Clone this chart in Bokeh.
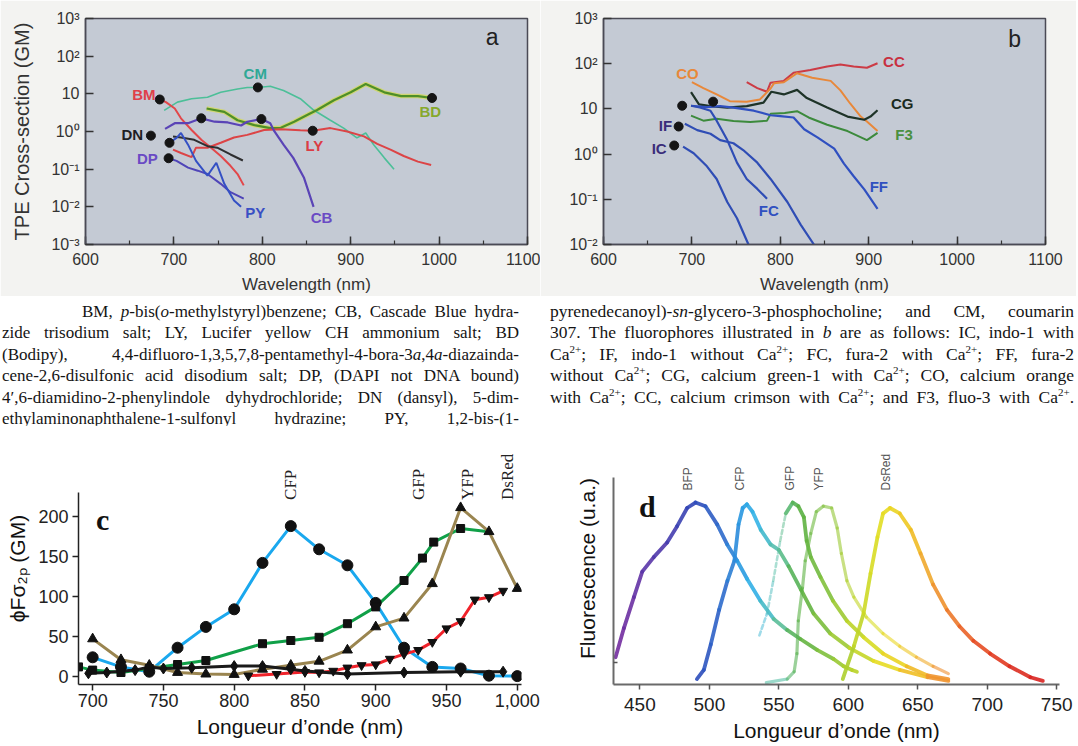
import numpy as np
from bokeh.plotting import figure
from bokeh.models import (Label, Div, FixedTicker, SingleIntervalTicker,
                          CustomJSTickFormatter, NumeralTickFormatter)
from bokeh.layouts import column, row
from bokeh.embed import file_html
from bokeh.resources import INLINE

SANS = "Liberation Sans"
SERIF = "Liberation Serif"

# ------------------------------------------------------------------
# Panel a : TPE cross-section (log10 of GM) versus wavelength (nm)
# ------------------------------------------------------------------
BM_nm = [684, 691, 701, 708, 720, 731, 742, 753, 764, 772, 779]
BM_log = [0.85, 0.78, 0.61, 0.35, 0.04, -0.22, -0.43, -0.65, -0.91, -1.13, -1.43]
CM_nm = [689, 704, 720, 738, 753, 772, 783, 795, 809, 824, 843, 858, 877, 892, 907, 917, 926, 938, 949]
CM_log = [0.56, 0.78, 0.87, 0.91, 1.04, 1.13, 1.17, 1.17, 1.20, 1.09, 0.87, 0.57, 0.30, 0.09, -0.17, -0.04, -0.35, -0.70, -1.00]
BD_nm = [737, 757, 772, 791, 809, 821, 836, 854, 862, 881, 900, 917, 938, 957, 976, 992]
BD_log = [0.61, 0.52, 0.30, 0.17, 0.09, 0.10, 0.26, 0.48, 0.57, 0.83, 1.04, 1.26, 1.04, 0.94, 0.94, 0.89]
LY_nm = [699, 708, 720, 725, 738, 753, 768, 783, 802, 821, 843, 857, 877, 896, 915, 930, 945, 960, 976, 991]
LY_log = [-0.48, -0.57, -0.68, -0.43, -0.43, -0.30, -0.16, -0.09, 0.04, 0.06, 0.03, 0.02, 0.09, 0.00, -0.13, -0.33, -0.48, -0.65, -0.80, -0.89]
CB_nm = [690, 701, 716, 731, 746, 761, 776, 783, 799, 809, 813, 824, 835, 847, 858]
CB_log = [0.07, 0.22, 0.22, 0.35, 0.26, 0.24, 0.16, 0.26, 0.33, 0.22, 0.03, -0.35, -0.70, -1.22, -2.00]
DN_nm = [699, 708, 723, 738, 749, 764, 778]
DN_log = [-0.13, -0.16, -0.22, -0.39, -0.43, -0.61, -0.77]
PY_nm = [695, 703, 708, 716, 725, 738, 748, 757, 768, 776]
PY_log = [-0.30, -0.17, -0.04, -0.35, -0.78, -1.17, -0.83, -1.39, -1.83, -2.00]
DP_nm = [694, 703, 716, 727, 738, 753, 764, 779]
DP_log = [-0.71, -0.78, -0.96, -1.04, -1.13, -1.39, -1.61, -1.78]
A_dot_nm = [684, 795, 731, 799, 857, 992, 674, 695, 694]
A_dot_log = [0.85, 1.17, 0.35, 0.33, 0.02, 0.89, -0.11, -0.30, -0.71]

# ------------------------------------------------------------------
# Panel b : calcium indicators (log10 of GM)
# ------------------------------------------------------------------
IC_nm = [690, 702, 717, 728, 740, 751, 764]
IC_log = [0.165, 0.02, -0.27, -0.55, -1.06, -1.42, -2.0]
IF_nm = [692, 706, 721, 732, 747, 758, 774, 789, 808, 823, 838]
IF_log = [0.67, 0.53, 0.45, 0.31, 0.24, 0.09, -0.19, -0.55, -1.06, -1.56, -2.0]
FC_nm = [699, 709, 721, 728, 740, 751, 762, 774, 785]
FC_log = [1.07, 1.03, 0.96, 0.74, 0.31, -0.19, -0.55, -0.77, -0.99]
FF_nm = [699, 717, 732, 747, 770, 789, 800, 815, 827, 842, 861, 872, 883, 895, 910]
FF_log = [1.07, 1.04, 1.06, 1.03, 0.96, 0.86, 0.84, 0.81, 0.55, 0.37, 0.12, -0.21, -0.49, -0.78, -1.21]
CG_nm = [699, 708, 721, 740, 762, 781, 790, 804, 819, 830, 853, 876, 895, 902, 910]
CG_log = [1.37, 1.10, 1.06, 1.03, 1.06, 1.14, 1.38, 1.32, 1.42, 1.24, 1.03, 0.83, 0.76, 0.83, 0.97]
CO_nm = [700, 713, 728, 743, 762, 777, 789, 793, 804, 819, 836, 857, 868, 879, 891, 898, 910]
CO_log = [1.59, 1.46, 1.32, 1.17, 1.16, 1.21, 1.45, 1.57, 1.59, 1.79, 1.69, 1.62, 1.41, 1.12, 0.83, 0.72, 0.51]
CC_nm = [762, 774, 785, 789, 804, 815, 834, 853, 868, 883, 898, 910]
CC_log = [1.59, 1.46, 1.38, 1.58, 1.62, 1.80, 1.86, 1.94, 1.98, 1.94, 1.91, 2.01]
F3_nm = [699, 713, 728, 747, 766, 785, 789, 805, 819, 832, 853, 876, 898, 910]
F3_log = [0.85, 0.74, 0.78, 0.73, 0.71, 0.74, 0.89, 0.91, 0.95, 0.81, 0.65, 0.51, 0.31, 0.47]
B_dot_nm = [680, 685, 689, 724]
B_dot_log = [0.19, 0.61, 1.07, 1.16]

# ------------------------------------------------------------------
# Panel c : brightness phiF*sigma2p (GM) of fluorescent proteins
# ------------------------------------------------------------------
CFP_nm = [700, 720, 740, 760, 780, 800, 820, 840, 860, 880, 900, 920, 940, 960, 980, 1000]
CFP_gm = [24, 12, 6, 36, 62, 84, 142, 188, 159, 139, 92, 36, 12, 10, 1, 0.5]
GFP_nm = [690, 700, 720, 740, 760, 780, 820, 840, 860, 880, 900, 920, 933, 941, 960, 980]
GFP_gm = [12, 8, 5, 10, 15, 20, 41, 45, 49, 66, 87, 120, 148, 168, 185, 181]
YFP_nm = [700, 720, 740, 760, 780, 800, 820, 840, 860, 880, 900, 920, 940, 960, 980, 1000]
YFP_gm = [47, 21, 14, 5, 3, 2.5, 9, 14, 19, 33, 62, 73, 116, 211, 181, 110]
DSR_nm = [810, 830, 850, 860, 870, 880, 890, 900, 910, 920, 930, 940, 950, 960, 970, 980, 990]
DSR_gm = [1, 3, 5.5, 5, 7, 11, 14, 15, 22, 28, 33, 43, 60, 69, 96, 99, 107]
BFP_nm = [697, 710, 730, 740, 750, 770, 800, 820, 840, 850, 880, 920, 960, 990]
BFP_gm = [4, 5, 8, 12, 10, 11, 13, 13, 9, 7, 3, 5, 6, 6]
C_tags = ["CFP", "GFP", "YFP", "DsRed"]
C_tag_nm = [840, 930, 965, 993]

# ------------------------------------------------------------------
# Panel d : emission spectra (arbitrary units)
# ------------------------------------------------------------------
dBFP_nm = [432.5, 438.5, 445.7, 451.7, 460, 469.6, 476.8, 484, 490, 497.2, 505.6, 512.8, 520, 527.2,
           536.7, 546.3, 555.9, 565.5, 577.5, 589.4, 596.6, 602.6, 606.2]
dBFP = [0.15, 0.31, 0.48, 0.62, 0.70, 0.78, 0.87, 0.97, 1.0, 0.98, 0.88, 0.77, 0.68, 0.58,
        0.46, 0.36, 0.30, 0.25, 0.19, 0.14, 0.10, 0.08, 0.07]
dCFP_nm = [491, 496, 501, 507, 513, 518, 521, 524, 527, 531, 537, 544, 550, 557, 566, 575, 587, 601, 618, 637, 657, 672]
dCFP = [0.03, 0.08, 0.22, 0.41, 0.57, 0.68, 0.88, 0.97, 0.99, 0.95, 0.85, 0.77, 0.74, 0.65, 0.52, 0.39, 0.28, 0.20, 0.13, 0.08, 0.04, 0.02]
dGFP_nm = [536, 541.5, 546, 551, 555, 560, 564, 568, 570, 573, 580, 589, 599, 611, 625, 642, 657, 672]
dGFP = [0.27, 0.39, 0.57, 0.79, 0.94, 1.0, 0.98, 0.92, 0.79, 0.70, 0.59, 0.46, 0.35, 0.26, 0.17, 0.10, 0.05, 0.03]
dYFP_nm = [541, 556, 561, 563, 564, 567, 569, 573, 577, 582, 588, 592, 595, 599, 604, 613, 625, 637, 649, 661, 672]
dYFP = [0.01, 0.03, 0.07, 0.17, 0.35, 0.53, 0.68, 0.83, 0.95, 0.98, 0.97, 0.86, 0.72, 0.57, 0.48, 0.37, 0.28, 0.21, 0.15, 0.10, 0.06]
dDSR_nm = [596, 604, 611, 616, 621, 625, 630, 637, 645, 652, 661, 671, 680, 690, 702, 716, 731, 740]
dDSR = [0.03, 0.21, 0.39, 0.61, 0.81, 0.94, 0.97, 0.94, 0.85, 0.72, 0.55, 0.41, 0.32, 0.24, 0.17, 0.10, 0.04, 0.02]
D_tags = ["BFP", "CFP", "GFP", "YFP", "DsRed"]
D_tag_nm = [484.5, 522.4, 558.3, 578.7, 627.4]

# wavelength -> colour stops used to tint the spectra
SPEC_nm = [430, 470, 490, 510, 525, 535, 550, 565, 585, 605, 625, 645, 660, 680, 700, 740]
SPEC_col = ["#7a2c9e", "#4a3cae", "#2e48b8", "#2e6ccc", "#2aa0e4", "#36b6e6", "#5cc0a0", "#58b044",
            "#84c23c", "#bcd428", "#e6e024", "#f0c424", "#f0a030", "#ec6e2a", "#e44422", "#d82020"]

LEFT_LINES = [
    "BM, <i>p</i>-bis(<i>o</i>-methylstyryl)benzene; CB, Cascade Blue hydra-",
    "zide trisodium salt; LY, Lucifer yellow CH ammonium salt; BD",
    "(Bodipy), 4,4-difluoro-1,3,5,7,8-pentamethyl-4-bora-3<i>a</i>,4<i>a</i>-diazainda-",
    "cene-2,6-disulfonic acid disodium salt; DP, (DAPI not DNA bound)",
    "4\u2032,6-diamidino-2-phenylindole dyhydrochloride; DN (dansyl), 5-dim-",
    "ethylaminonaphthalene-1-sulfonyl hydrazine; PY, 1,2-bis-(1-",
]
SUP = '<span style="font-size:11px;position:relative;top:-7px;">2+</span>'
RIGHT_LINES = [
    "pyrenedecanoyl)-<i>sn</i>-glycero-3-phosphocholine; and CM, coumarin",
    "307. The fluorophores illustrated in <i>b</i> are as follows: IC, indo-1 with",
    f"Ca{SUP}; IF, indo-1 without Ca{SUP}; FC, fura-2 with Ca{SUP}; FF, fura-2",
    f"without Ca{SUP}; CG, calcium green-1 with Ca{SUP}; CO, calcium orange",
    f"with Ca{SUP}; CC, calcium crimson with Ca{SUP}; and F3, fluo-3 with Ca{SUP}.",
]


def pow10(a):
    return list(10.0 ** np.asarray(a, dtype=float))


SUP_JS = """
const e = Math.round(Math.log10(tick));
if (e === 1) return '10';
const m = {'-': '\u207b', '0': '\u2070', '1': '\u00b9', '2': '\u00b2', '3': '\u00b3'};
return '10' + String(e).split('').map(c => m[c]).join('');
"""


def lab(p, x, y, text, color, size="15px", bold=True, font=SANS, angle=0.0,
        align="center", baseline="middle"):
    p.add_layout(Label(x=x, y=y, text=text, text_color=color, text_font_size=size,
                       text_font_style="bold" if bold else "normal", text_font=font,
                       angle=angle, text_align=align, text_baseline=baseline))


def style_log_panel(p, e0, e1):
    p.grid.visible = False
    p.xaxis.ticker = SingleIntervalTicker(interval=100, num_minor_ticks=2)
    p.yaxis.ticker = FixedTicker(ticks=[10.0 ** e for e in range(e0, e1 + 1)])
    p.yaxis.formatter = CustomJSTickFormatter(code=SUP_JS)
    for ax in (p.xaxis, p.yaxis):
        ax.axis_line_color = "#4a4a55"
        ax.axis_line_width = 1.5
        ax.major_tick_in = 8
        ax.major_tick_out = 0
        ax.major_tick_line_color = "#333333"
        ax.major_tick_line_width = 1.5
        ax.minor_tick_in = 4
        ax.minor_tick_out = 0
        ax.minor_tick_line_color = "#333333"
        ax.minor_tick_line_width = 1.2
        ax.major_label_text_font = SANS
        ax.major_label_text_font_size = "16px"
        ax.major_label_text_color = "#333333"
        ax.axis_label_text_font = SANS
        ax.axis_label_text_font_size = "17px"
        ax.axis_label_text_font_style = "normal"
        ax.axis_label_text_color = "#333333"
    p.yaxis.minor_tick_line_color = None
    p.xaxis.major_label_standoff = 8
    p.yaxis.major_label_standoff = 6
    p.xaxis.axis_label = "Wavelength (nm)"
    p.xaxis.axis_label_standoff = 7


PLOT_BG = "#c4cad4"
BORDER_BG = "#f3f3f1"

# ---------------------------- panel a ----------------------------
pa = figure(width=540, height=296, x_range=(600, 1100), y_range=(1e-3, 1e3), y_axis_type="log",
            output_backend="svg", toolbar_location=None,
            min_border_left=85, min_border_right=13, min_border_top=18, min_border_bottom=48,
            background_fill_color=PLOT_BG, border_fill_color=BORDER_BG,
            outline_line_color="#4a4a55", outline_line_width=1.5)
style_log_panel(pa, -3, 3)
pa.yaxis.axis_label = "TPE Cross-section (GM)"
pa.yaxis.axis_label_text_font_size = "20px"
pa.yaxis.axis_label_standoff = 15

pa.line(BD_nm, pow10(BD_log), line_color="#d6dc4a", line_width=4.5, line_alpha=0.7)
series_a = [
    (CM_nm, CM_log, "#4cbf98", 1.6),
    (BD_nm, BD_log, "#4e8f28", 2.2),
    (LY_nm, LY_log, "#dc4446", 2.0),
    (BM_nm, BM_log, "#e2474a", 2.0),
    (CB_nm, CB_log, "#5a44b6", 2.2),
    (DN_nm, DN_log, "#2e2e30", 2.0),
    (DP_nm, DP_log, "#4f45b8", 2.0),
    (PY_nm, PY_log, "#3450c4", 2.0),
]
for xs, ls, col, w in series_a:
    pa.line(xs, pow10(ls), line_color=col, line_width=w)
pa.scatter(A_dot_nm, pow10(A_dot_log), size=9, color="#151515")

for t, x, lg, col in [("CM", 792, 1.54, "#2fa896"), ("BM", 666, 0.97, "#e0404a"),
                      ("DN", 653, -0.09, "#1e1e24"), ("DP", 670, -0.72, "#6a4ac4"),
                      ("PY", 792, -2.16, "#3a50c4"), ("CB", 867, -2.29, "#6a4ac4"),
                      ("LY", 859, -0.37, "#dc3c44"), ("BD", 990, 0.52, "#86a82c")]:
    lab(pa, x, 10 ** lg, t, col)
lab(pa, 1060, 10 ** 2.51, "a", "#222222", size="23px", bold=False)

# ---------------------------- panel b ----------------------------
pb = figure(width=536, height=296, x_range=(600, 1100), y_range=(1e-2, 1e3), y_axis_type="log",
            output_backend="svg", toolbar_location=None,
            min_border_left=63, min_border_right=31, min_border_top=14, min_border_bottom=49,
            background_fill_color=PLOT_BG, border_fill_color=BORDER_BG,
            outline_line_color="#4a4a55", outline_line_width=1.5)
style_log_panel(pb, -2, 3)

series_b = [
    (CC_nm, CC_log, "#cc3b45", 2.0),
    (CO_nm, CO_log, "#e8883a", 2.0),
    (F3_nm, F3_log, "#3c8a3c", 2.0),
    (CG_nm, CG_log, "#1e3328", 2.2),
    (FF_nm, FF_log, "#3050c0", 2.2),
    (FC_nm, FC_log, "#2f4db5", 2.2),
    (IF_nm, IF_log, "#2f4db5", 2.2),
    (IC_nm, IC_log, "#2f4db5", 2.2),
]
for xs, ls, col, w in series_b:
    pb.line(xs, pow10(ls), line_color=col, line_width=w)
pb.scatter(B_dot_nm, pow10(B_dot_log), size=9, color="#151515")

for t, x, lg, col in [("CO", 695, 1.78, "#e8883a"), ("IF", 670, 0.63, "#3a2d7a"),
                      ("IC", 663, 0.13, "#3a2d7a"), ("FC", 787, -1.24, "#3050c0"),
                      ("FF", 911.5, -0.71, "#3050c0"), ("CG", 938, 1.12, "#1a2a20"),
                      ("F3", 940, 0.44, "#4a9040"), ("CC", 928.5, 2.05, "#c83040")]:
    lab(pb, x, 10 ** lg, t, col)
lab(pb, 1065, 10 ** 2.55, "b", "#222222", size="23px", bold=False)

# ---------------------------- caption ----------------------------
def col_html(lines, width, pad_left, indent_first, size):
    inner = ""
    for i, ln in enumerate(lines):
        ind = f"text-indent:{indent_first}px;" if (i == 0 and indent_first) else ""
        inner += (f'<div style="display:block;width:{width}px;height:21.4px;text-align:justify;'
                  f'text-align-last:justify;{ind}">{ln}</div>')
    return (f'<div style="display:block;width:{width + pad_left}px;box-sizing:border-box;'
            f'font-family:\'{SERIF}\',serif;font-size:{size}px;line-height:21.4px;'
            f'color:#141414;padding-top:5px;padding-left:{pad_left}px;">{inner}</div>')


div_l = Div(text=col_html(LEFT_LINES, 517, 2, 80, 17), width=540, height=129, margin=0)
div_r = Div(text=col_html(RIGHT_LINES, 524, 10, 0, 17.5), width=536, height=129, margin=0)

# ---------------------------- panel c ----------------------------
pc = figure(width=540, height=319, x_range=(690, 1003), y_range=(-10, 280),
            output_backend="svg", toolbar_location=None,
            min_border_left=78, min_border_right=19, min_border_top=27, min_border_bottom=58,
            outline_line_color=None, background_fill_color="white", border_fill_color="white")
pc.grid.visible = False
pc.xaxis.ticker = FixedTicker(ticks=list(range(700, 1001, 50)))
pc.xaxis.formatter = NumeralTickFormatter(format="0,0")
pc.yaxis.ticker = FixedTicker(ticks=[0, 50, 100, 150, 200])
pc.yaxis.bounds = (-10, 230)
for ax in (pc.xaxis, pc.yaxis):
    ax.axis_line_color = "#222222"
    ax.axis_line_width = 1.5
    ax.major_tick_in = 0
    ax.major_tick_out = 6
    ax.major_tick_line_color = "#222222"
    ax.major_tick_line_width = 1.5
    ax.minor_tick_line_color = None
    ax.major_label_text_font = SANS
    ax.major_label_text_font_size = "18px"
    ax.major_label_text_color = "#222222"
    ax.axis_label_text_font = SANS
    ax.axis_label_text_font_size = "21px"
    ax.axis_label_text_font_style = "normal"
    ax.axis_label_text_color = "#111111"
pc.xaxis.major_label_standoff = 3
pc.yaxis.major_label_standoff = 4
pc.xaxis.axis_label = "Longueur d\u2019onde (nm)"
pc.xaxis.axis_label_standoff = 5
pc.yaxis.axis_label = "\u03d5F\u03c3\u2082\u209a (GM)"
pc.yaxis.axis_label_standoff = 6

pc.line(CFP_nm, CFP_gm, line_color="#1aa8ee", line_width=3)
pc.line(GFP_nm, GFP_gm, line_color="#10a048", line_width=3)
pc.line(YFP_nm, YFP_gm, line_color="#9a8550", line_width=3)
pc.line(DSR_nm, DSR_gm, line_color="#f0222a", line_width=3)
pc.line(BFP_nm, BFP_gm, line_color="#1a1a1a", line_width=3)
pc.scatter(CFP_nm, CFP_gm, marker="circle", size=11, color="#111111")
pc.scatter(GFP_nm[:-1], GFP_gm[:-1], marker="square", size=8, color="#111111")
pc.scatter(YFP_nm, YFP_gm, marker="triangle", size=10, color="#111111")
pc.scatter(DSR_nm, DSR_gm, marker="inverted_triangle", size=9, color="#111111")
pc.scatter(BFP_nm, BFP_gm, marker="diamond", size=11, color="#111111")

for t, x in zip(C_tags, C_tag_nm):
    lab(pc, x, 220.7, t, "#222222", size="17px", bold=False, font=SERIF,
        angle=np.pi / 2, align="left", baseline="middle")
lab(pc, 707, 196, "c", "#111111", size="30px", bold=True, font=SERIF)

# ---------------------------- panel d ----------------------------
pd_ = figure(width=536, height=319, x_range=(431, 752), y_range=(0, 1.275),
             output_backend="svg", toolbar_location=None,
             min_border_left=73, min_border_right=17, min_border_top=27, min_border_bottom=60,
             outline_line_color=None, background_fill_color="white", border_fill_color="white")
pd_.grid.visible = False
pd_.xaxis.ticker = FixedTicker(ticks=list(range(450, 751, 50)))
pd_.yaxis.ticker = FixedTicker(ticks=[0.12])
pd_.yaxis.formatter = CustomJSTickFormatter(code="return '';")
pd_.yaxis.bounds = (0, 1.137)
for ax in (pd_.xaxis, pd_.yaxis):
    ax.axis_line_color = "#6a6a6a"
    ax.axis_line_width = 2
    ax.major_tick_line_color = "#555555"
    ax.major_tick_line_width = 1.5
    ax.minor_tick_line_color = None
    ax.major_label_text_font = SANS
    ax.major_label_text_font_size = "19px"
    ax.major_label_text_color = "#222222"
    ax.axis_label_text_font = SANS
    ax.axis_label_text_font_size = "21px"
    ax.axis_label_text_font_style = "normal"
    ax.axis_label_text_color = "#111111"
pd_.xaxis.major_tick_in = 0
pd_.xaxis.major_tick_out = 5
pd_.yaxis.major_tick_in = 4
pd_.yaxis.major_tick_out = 0
pd_.xaxis.major_label_standoff = 8
pd_.yaxis.major_label_standoff = 4
pd_.xaxis.axis_label = "Longueur d\u2019onde (nm)"
pd_.xaxis.axis_label_standoff = 5
pd_.yaxis.axis_label = "Fluorescence (u.a.)"
pd_.yaxis.axis_label_standoff = 15


def spec_colors(xmid):
    out = []
    rgb = np.array([[int(c[i:i + 2], 16) for i in (1, 3, 5)] for c in SPEC_col], dtype=float)
    for xm in xmid:
        r, g, b = (np.interp(xm, SPEC_nm, rgb[:, k]) for k in range(3))
        out.append("#%02x%02x%02x" % (int(r), int(g), int(b)))
    return out


def spectrum(p, xs, ys, width=3.8, alpha=0.9, dash="solid"):
    xs = np.asarray(xs, float)
    ys = np.asarray(ys, float)
    cols = spec_colors((xs[:-1] + xs[1:]) / 2)
    p.segment(x0=xs[:-1], y0=ys[:-1], x1=xs[1:], y1=ys[1:], line_color=cols,
              line_width=width, line_alpha=alpha, line_cap="round", line_dash=dash)


spectrum(pd_, dBFP_nm, dBFP)
spectrum(pd_, dCFP_nm, dCFP)
spectrum(pd_, dGFP_nm[:5], dGFP[:5], width=2.6, alpha=0.5, dash="4 3")
spectrum(pd_, dGFP_nm[4:], dGFP[4:])
spectrum(pd_, dYFP_nm, dYFP, width=3.2, alpha=0.6)
spectrum(pd_, dDSR_nm, dDSR)

for t, x in zip(D_tags, D_tag_nm):
    lab(pd_, x, 1.066, t, "#555555", size="12px", bold=False, font=SANS,
        angle=np.pi / 2, align="left", baseline="middle")
lab(pd_, 455.3, 0.98, "d", "#111111", size="30px", bold=True, font=SERIF)

layout = column(row(pa, pb), row(div_l, div_r), row(pc, pd_))
open("out.html", "w").write(file_html(layout, INLINE))
